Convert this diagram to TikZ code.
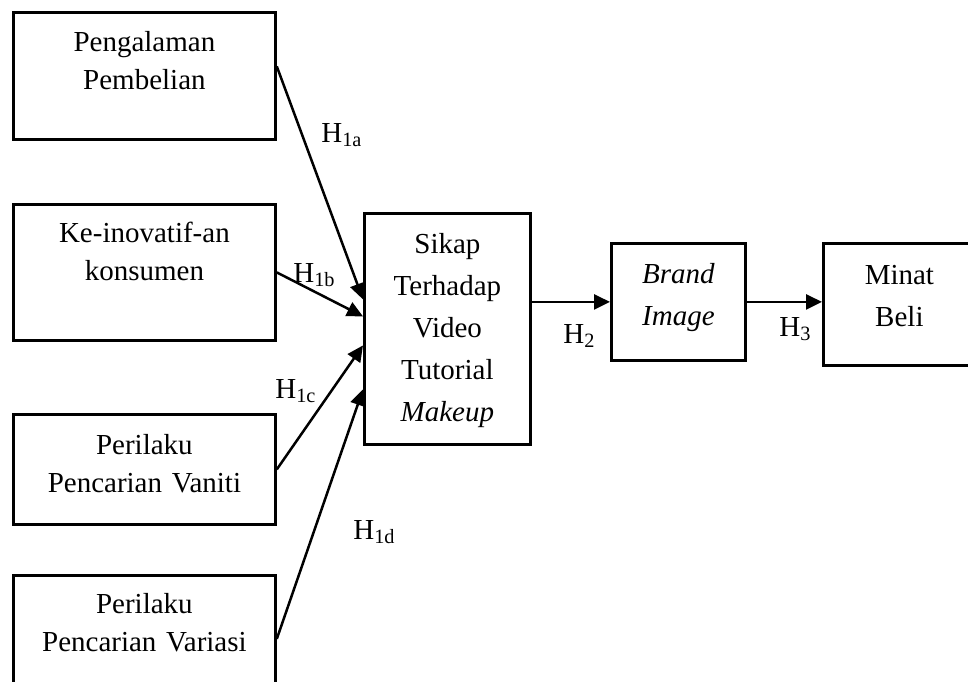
\documentclass[tikz,border=0pt]{standalone}
\usepackage{fontspec}
\setmainfont{Liberation Serif}
\usepackage{tikz}
\usetikzlibrary{arrows.meta, positioning, calc}
\tikzset{
  varbox/.style={
    draw, rectangle, line width=1.4pt,
    inner sep=0pt, align=center, anchor=north west,
    font=\fontsize{14.5pt}{19pt}\selectfont
  },
  mainbox/.style={
    varbox, font=\fontsize{14.5pt}{21pt}\selectfont
  },
  hlabel/.style={
    anchor=base west, inner sep=0pt,
    font=\fontsize{14.5pt}{17pt}\selectfont
  },
  arrow/.style={
    -{Triangle[length=8pt, width=7.5pt]}, line width=1.25pt
  }
}

\begin{document}
\begin{tikzpicture}[x=0.5pt, y=-0.5pt]
        \useasboundingbox (0,0) rectangle (968,681);
        % independent variables
        \node[varbox, text width=131pt, text height=19.5pt, text depth=44pt] (pengalaman) at (12,11) {Pengalaman\\Pembelian};
        \node[varbox, text width=131pt, text height=19pt, text depth=49pt] (inovatif) at (12,203) {Ke-inovatif-an\\konsumen};
        \node[varbox, text width=131pt, text height=20pt, text depth=35pt] (vaniti) at (12,413) {Perilaku\\Pencarian Vaniti};
        \node[varbox, text width=131pt, text height=19pt, text depth=44.5pt] (variasi) at (12,574) {Perilaku\\Pencarian Variasi};

        \node[mainbox, text width=83pt, text height=20pt, text depth=95.5pt] (sikap) at (363,212) {Sikap\\Terhadap\\Video\\Tutorial\\\textit{Makeup}};
        \node[mainbox, text width=67pt, text height=20pt, text depth=38.5pt] (brand) at (610,242) {\textit{Brand}\\\textit{Image}};
        \node[mainbox, text width=76pt, text height=20.5pt, text depth=40.5pt] (minat) at (822,242) {Minat\\Beli};

        % hypotheses
        \node[hlabel] (h1a) at (321,142) {H\textsubscript{1a}};
        \node[hlabel] (h1b) at (293,282) {H\textsubscript{1b}};
        \node[hlabel] (h1c) at (275,398) {H\textsubscript{1c}};
        \node[hlabel] (h1d) at (353,539) {H\textsubscript{1d}};
        \node[hlabel] (h2) at (563,343) {H\textsubscript{2}};
        \node[hlabel] (h3) at (779,336) {H\textsubscript{3}};

        \draw[arrow] ([yshift=4.75pt]pengalaman.east) -- ([yshift=14.75pt]sikap.west);
        \draw[arrow] (inovatif.east) -- ([yshift=6.25pt]sikap.west);
        \draw[arrow] (vaniti.east) -- ([yshift=-8.25pt]sikap.west);
        \draw[arrow] (variasi.east) -- ([yshift=-30.25pt]sikap.west);
        \draw[arrow] (sikap.east |- brand.west) -- (brand.west);
        \draw[arrow] (brand.east) -- (minat.west |- brand.east);
      \end{tikzpicture}
\end{document}
